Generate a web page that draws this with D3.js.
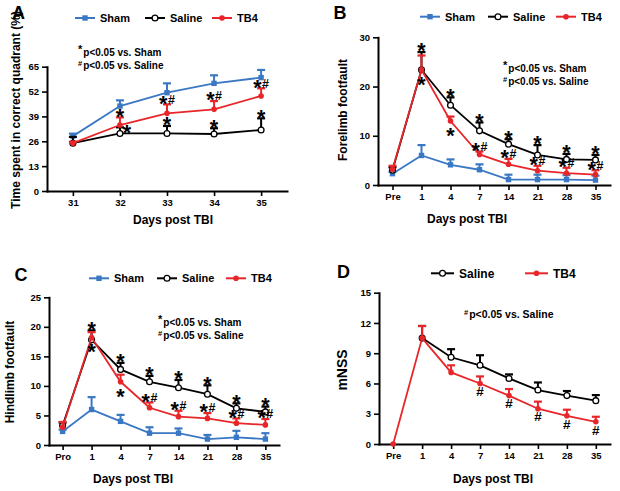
<!DOCTYPE html>
<html>
<head>
<meta charset="utf-8">
<script src="https://cdn.jsdelivr.net/npm/d3@7"></script>
<style>
body { margin: 0; background: #fff; }
svg { display: block; font-family: "Liberation Sans", Arial, sans-serif; font-weight: bold; }
</style>
</head>
<body>
<svg id="chart" width="620" height="491"></svg>
<script>
// Panel A - water maze, days 31-35
const daysA = ['31', '32', '33', '34', '35'];
const shamA = [28.7, 44.4, 51.4, 56.3, 59.3];
const shamAErr = [1.3, 3.0, 4.9, 4.2, 4.0];
const salineA = [25, 30.1, 30.1, 29.8, 31.9];
const salineAErr = [3.3, 3.2, 3.9, 3.0, 6.1];
const tb4A = [25, 34.5, 40.6, 42.7, 49.7];
const tb4AErr = [0.8, 4.0, 4.7, 4.3, 4.0];
const sigASaline = ['', '*', '*', '*', '*'];
const sigASalinePos = ['', 'right', 'above', 'above', 'above'];
const sigATb4 = ['', '*', '*#', '*#', '*#'];
const sigATb4Pos = ['', 'above', 'above', 'above', 'above'];
const ticksA = [0, 13, 26, 39, 52, 65];

// Panel B - forelimb footfault
const daysB = ['Pre', '1', '4', '7', '14', '21', '28', '35'];
const shamB = [2.3, 6.0, 4.1, 3.1, 1.1, 1.1, 1.1, 1.0];
const shamBErr = [0.4, 2.1, 1.1, 1.1, 1.0, 1.0, 0.9, 0.9];
const salineB = [3.0, 23.4, 16.2, 11.0, 8.3, 6.1, 5.2, 5.1];
const salineBErr = [0.6, 3.6, 1.6, 1.7, 1.0, 2.0, 1.1, 1.0];
const tb4B = [3.2, 23.4, 13.0, 6.2, 4.2, 2.9, 2.4, 2.1];
const tb4BErr = [0.7, 2.9, 0.9, 0.6, 1.1, 1.0, 1.1, 0.9];
const sigBSaline = ['', '*', '*', '*', '*', '*', '*', '*'];
const sigBTb4 = ['', '*', '*', '*#', '*#', '*#', '*#', '*#'];
const sigBTb4Pos = ['', 'below', 'below', 'above', 'above', 'above', 'above', 'above'];
const ticksB = [0, 10, 20, 30];

// Panel C - hindlimb footfault
const daysC = ['Pro', '1', '4', '7', '14', '21', '28', '35'];
const shamC = [2.3, 6.0, 4.0, 2.0, 2.0, 1.0, 1.3, 1.0];
const shamCErr = [0.3, 2.1, 1.1, 1.0, 0.8, 0.7, 1.1, 1.0];
const salineC = [3.3, 17.8, 12.8, 10.7, 9.7, 8.6, 6.2, 5.6];
const salineCErr = [0.5, 1.6, 1.1, 1.0, 1.3, 1.5, 0.85, 0.9];
const tb4C = [3.0, 18.2, 10.7, 6.3, 4.8, 4.5, 3.7, 3.4];
const tb4CErr = [0.9, 0.9, 1.2, 0.9, 1.0, 0.9, 0.8, 1.0];
const sigCSaline = ['', '*', '*', '*', '*', '*', '*', '*'];
const sigCTb4 = ['', '*', '*', '*#', '*#', '*#', '*#', '*#'];
const sigCTb4Pos = ['', 'below', 'below', 'above', 'above', 'above', 'above', 'above'];
const ticksC = [0, 5, 10, 15, 20, 25];

// Panel D - mNSS
const daysD = ['Pre', '1', '4', '7', '14', '21', '28', '35'];
const salineD = [null, 10.5, 8.6, 7.8, 6.5, 5.35, 4.8, 4.3];
const salineDErr = [0, 1.2, 0.8, 1.0, 0.4, 0.75, 0.45, 0.55];
const tb4D = [0, 10.5, 7.1, 6.0, 4.8, 3.5, 2.8, 2.2];
const tb4DErr = [0, 1.2, 0.7, 0.7, 0.65, 0.7, 0.6, 0.5];
const sigDTb4 = ['', '', '', '#', '#', '#', '#', '#'];
const sigDTb4Pos = ['', '', '', 'below', 'below', 'below', 'below', 'below'];
const ticksD = [0, 3, 6, 9, 12, 15];

const BLUE = '#3b78c4';
const RED = '#e8262a';
const svg = d3.select('#chart');

function drawSig(g, cx, cy, txt) {
  if (!txt) return;
  if (txt === '#') {
    g.append('text').attr('x', cx).attr('y', cy + 4.8)
      .attr('text-anchor', 'middle').attr('font-size', 13.5).text('#');
    return;
  }
  const t = g.append('text').attr('x', cx).attr('y', cy + 11.8)
    .attr('text-anchor', 'middle');
  t.append('tspan').attr('font-size', 21.5).text('*');
  if (txt === '*#') {
    t.append('tspan').attr('font-size', 12.5).attr('dy', -7).attr('dx', 0.5).text('#');
  }
}

function marker(g, type, cx, cy, color) {
  if (type === 'square') {
    g.append('rect').attr('x', cx - 2.7).attr('y', cy - 2.7)
      .attr('width', 5.4).attr('height', 5.4).attr('fill', color);
  } else if (type === 'open') {
    g.append('circle').attr('cx', cx).attr('cy', cy).attr('r', 2.9)
      .attr('fill', '#fff').attr('stroke', color).attr('stroke-width', 1.3);
  } else {
    g.append('circle').attr('cx', cx).attr('cy', cy).attr('r', 2.8)
      .attr('fill', color);
  }
}

function panel(p) {
  const g = svg.append('g');
  const x = d3.scalePoint().domain(p.cats).range([p.x0, p.x1]).padding(p.pad);
  const y = d3.scaleLinear().domain([0, p.ymax]).range([p.y0, p.y1]);

  const xa = g.append('g')
    .attr('transform', `translate(0,${p.y0})`)
    .call(d3.axisBottom(x).tickSize(5).tickSizeOuter(0).tickPadding(3));
  const ya = g.append('g')
    .attr('transform', `translate(${p.x0},0)`)
    .call(d3.axisLeft(y).tickValues(p.yticks).tickSize(5).tickSizeOuter(0).tickPadding(3));
  [xa, ya].forEach(a => {
    a.select('.domain').attr('stroke-width', 2).attr('stroke-linecap', 'square');
    a.selectAll('.tick line').attr('stroke-width', 1.6);
    a.selectAll('.tick text').attr('font-size', 9.5).attr('fill', '#000')
      .attr('font-family', '"Liberation Sans", Arial, sans-serif').attr('font-weight', 'bold');
  });

  p.series.forEach(s => {
    const pts = s.vals.map((v, i) => ({ c: p.cats[i], v: v, e: s.errs[i] }))
      .filter(d => d.v != null);
    g.append('path').datum(pts)
      .attr('fill', 'none').attr('stroke', s.color).attr('stroke-width', 1.8)
      .attr('d', d3.line().x(d => x(d.c)).y(d => y(d.v)));
    pts.forEach(d => {
      if (!d.e) return;
      const cx = x(d.c), top = y(d.v + d.e);
      g.append('line').attr('x1', cx).attr('x2', cx).attr('y1', y(d.v)).attr('y2', top)
        .attr('stroke', s.color).attr('stroke-width', 2);
      g.append('line').attr('x1', cx - 4).attr('x2', cx + 4).attr('y1', top).attr('y2', top)
        .attr('stroke', s.color).attr('stroke-width', 2.2);
    });
    pts.forEach(d => marker(g, s.marker, x(d.c), y(d.v), s.color));
  });

  // significance marks
  p.series.forEach(s => {
    if (!s.sig) return;
    s.sig.forEach((txt, i) => {
      if (!txt) return;
      const v = s.vals[i], e = s.errs[i];
      const pos = s.sigPos ? s.sigPos[i] : 'above';
      const cx = x(p.cats[i]);
      if (pos === 'above') drawSig(g, cx, y(v + e) - 5.5, txt);
      else if (pos === 'below') drawSig(g, cx, y(v) + (txt === '#' ? 8 : 10), txt);
      else if (pos === 'right') drawSig(g, cx + 7, y(v + e) + 1, txt);
    });
  });

  // legend
  p.series.forEach((s, i) => {
    const lx = p.legX[i], ly = p.legY;
    g.append('line').attr('x1', lx).attr('x2', lx + p.legLen).attr('y1', ly).attr('y2', ly)
      .attr('stroke', s.color).attr('stroke-width', 2);
    marker(g, s.marker, lx + p.legLen / 2, ly, s.color);
    g.append('text').attr('x', lx + p.legLen + 5).attr('y', ly + 0.36 * p.legFont)
      .attr('font-size', p.legFont).text(s.name);
  });

  // note
  p.notes.forEach((n, i) => {
    const t = g.append('text').attr('x', p.noteX).attr('y', p.noteY + i * p.noteGap)
      .attr('font-size', p.noteFont);
    t.append('tspan').attr('font-size', n[0] === '*' ? 11 : 7.5).attr('dy', -3).text(n[0]);
    t.append('tspan').attr('dy', 3).attr('dx', 1).text(n.slice(1));
  });

  // titles
  g.append('text').attr('x', p.xtX).attr('y', p.xtY).attr('text-anchor', 'middle')
    .attr('font-size', 12).text('Days post TBI');
  g.append('text').attr('transform', `translate(${p.ytX},${p.ytY}) rotate(-90)`)
    .attr('text-anchor', 'middle').attr('font-size', p.ytFont).text(p.ytitle);
  g.append('text').attr('x', p.lbX).attr('y', p.lbY).attr('text-anchor', 'middle')
    .attr('font-size', 18).text(p.label);
}

panel({
  label: 'A', lbX: 18.5, lbY: 19,
  cats: daysA, x0: 47, x1: 287, pad: 0.55, y0: 191, y1: 66.7, ymax: 65, yticks: ticksA,
  series: [
    { name: 'Sham', vals: shamA, errs: shamAErr, color: BLUE, marker: 'square' },
    { name: 'Saline', vals: salineA, errs: salineAErr, color: '#000', marker: 'open', sig: sigASaline, sigPos: sigASalinePos },
    { name: 'TB4', vals: tb4A, errs: tb4AErr, color: RED, marker: 'dot', sig: sigATb4, sigPos: sigATb4Pos }
  ],
  legX: [75, 145, 212], legY: 18, legLen: 20, legFont: 11,
  notes: ['*p<0.05 vs. Sham', '#p<0.05 vs. Saline'], noteX: 78, noteY: 56, noteGap: 13, noteFont: 10,
  xtX: 173, xtY: 224, ytX: 19.5, ytY: 110, ytFont: 12, ytitle: 'Time spent in correct quadrant (%)'
});

panel({
  label: 'B', lbX: 340, lbY: 19,
  cats: daysB, x0: 378, x1: 610, pad: 0.5, y0: 185, y1: 37.3, ymax: 30, yticks: ticksB,
  series: [
    { name: 'Sham', vals: shamB, errs: shamBErr, color: BLUE, marker: 'square' },
    { name: 'Saline', vals: salineB, errs: salineBErr, color: '#000', marker: 'open', sig: sigBSaline },
    { name: 'TB4', vals: tb4B, errs: tb4BErr, color: RED, marker: 'dot', sig: sigBTb4, sigPos: sigBTb4Pos }
  ],
  legX: [420, 488, 556], legY: 16.7, legLen: 20, legFont: 11,
  notes: ['*p<0.05 vs. Sham', '#p<0.05 vs. Saline'], noteX: 503, noteY: 72, noteGap: 12.5, noteFont: 10,
  xtX: 467, xtY: 223, ytX: 347, ytY: 110, ytFont: 12, ytitle: 'Forelimb footfault'
});

panel({
  label: 'C', lbX: 21, lbY: 281,
  cats: daysC, x0: 49, x1: 279, pad: 0.47, y0: 445, y1: 297.3, ymax: 25, yticks: ticksC,
  series: [
    { name: 'Sham', vals: shamC, errs: shamCErr, color: BLUE, marker: 'square' },
    { name: 'Saline', vals: salineC, errs: salineCErr, color: '#000', marker: 'open', sig: sigCSaline },
    { name: 'TB4', vals: tb4C, errs: tb4CErr, color: RED, marker: 'dot', sig: sigCTb4, sigPos: sigCTb4Pos }
  ],
  legX: [89, 157, 226], legY: 278.3, legLen: 20, legFont: 11,
  notes: ['*p<0.05 vs. Sham', '#p<0.05 vs. Saline'], noteX: 158, noteY: 325.5, noteGap: 13.3, noteFont: 10,
  xtX: 133, xtY: 483, ytX: 13.5, ytY: 372, ytFont: 12, ytitle: 'Hindlimb footfault'
});

panel({
  label: 'D', lbX: 343.5, lbY: 278,
  cats: daysD, x0: 379, x1: 610, pad: 0.49, y0: 444, y1: 292.7, ymax: 15, yticks: ticksD,
  series: [
    { name: 'Saline', vals: salineD, errs: salineDErr, color: '#000', marker: 'open' },
    { name: 'TB4', vals: tb4D, errs: tb4DErr, color: RED, marker: 'dot', sig: sigDTb4, sigPos: sigDTb4Pos }
  ],
  legX: [431, 525], legY: 273.3, legLen: 23, legFont: 12,
  notes: ['#p<0.05 vs. Saline'], noteX: 464, noteY: 318, noteGap: 13, noteFont: 10.5,
  xtX: 493, xtY: 482.5, ytX: 347, ytY: 370, ytFont: 14, ytitle: 'mNSS'
});
</script>
</body>
</html>
